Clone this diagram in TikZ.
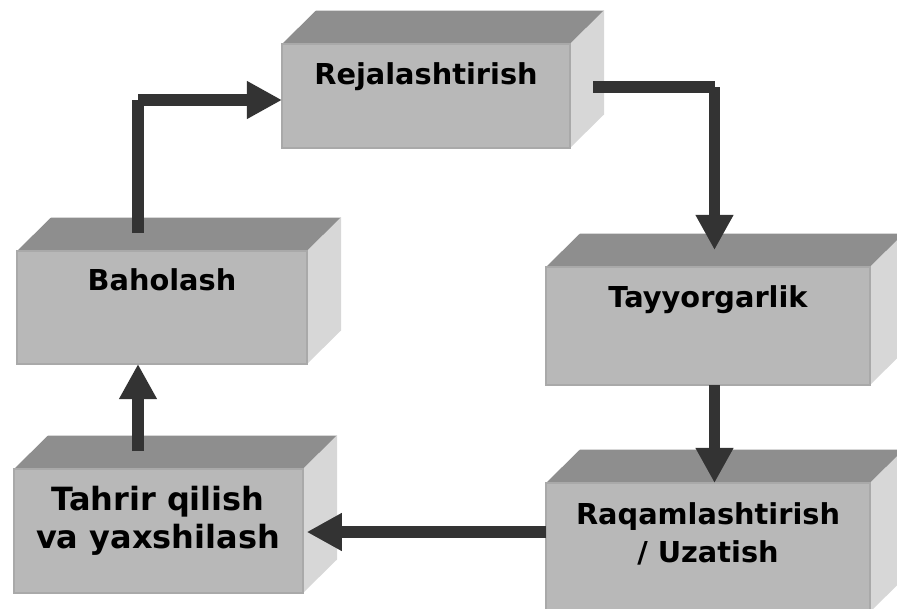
\documentclass[tikz,border=0pt]{standalone}
\usepackage{fontspec}
\setmainfont{DejaVu Sans}
\usetikzlibrary{arrows.meta,fit,calc}

\definecolor{frontgray}{HTML}{B8B8B8}
\definecolor{topgray}{HTML}{8E8E8E}
\definecolor{sidegray}{HTML}{D7D7D7}
\definecolor{edgegray}{HTML}{A9A9A9}
\definecolor{arrowgray}{HTML}{333333}

\tikzset{
  frontface/.style={rectangle, inner sep=0pt, outer sep=0pt, fill=frontgray,
    draw=edgegray, line width=0.8pt},
  topface/.style={fill=topgray},
  sideface/.style={fill=sidegray},
  boxlabel/.style={font=\bfseries\fontsize{21.6}{28.6}\selectfont, align=center,
    anchor=base, inner sep=0pt, text=black},
  biglabel/.style={boxlabel, font=\bfseries\fontsize{24}{28.2}\selectfont},
  shaft/.style={draw=arrowgray, line width=8.6pt},
  conn/.style={shaft, -{Triangle[length=26.3pt, width=26.6pt]}},
}

% 3-D block: #1 name, (#2,#3) and (#4,#5) the corners of the front face
\newcommand\blockbox[5]{%
  \fill[topface] (#2,#3) -- (#2+34,#3-33.5) -- (#4+34,#3-33.5) -- (#4,#3) -- cycle;
  \fill[sideface] (#4,#3) -- (#4+34,#3-33.5) -- (#4+34,#5-33.5) -- (#4,#5) -- cycle;
  \node[frontface, fit={(#2,#3) (#4,#5)}] (#1) {};
}

\begin{document}
\begin{tikzpicture}[x=0.75pt, y=-0.75pt]
  \useasboundingbox (0,0) rectangle (897,608);
  \clip (0,0) rectangle (897,608);

  % blocks
  \blockbox{rej}{282}{44}{570}{148}
  \blockbox{bah}{17}{251}{307}{364}
  \blockbox{tay}{546}{267}{870}{385}
  \blockbox{tah}{14}{469}{303}{593}
  \blockbox{raq}{546}{483}{870}{612}

  % labels (base = baseline of the last line)
  \node[boxlabel] (rej-t) at (426,84) {Rejalashtirish};
  \node[boxlabel] (bah-t) at (162,290) {Baholash};
  \node[boxlabel] (tay-t) at (708,307.5) {Tayyorgarlik};
  \node[biglabel] (tah-t) at (158,548.5) {Tahrir qilish\\va yaxshilash};
  \node[boxlabel] (raq-t) at (708,562.5) {Raqamlashtirish\\/ Uzatish};

  % connector end points lying on the top and side faces
  \coordinate (bah-up)   at (138,233);
  \coordinate (elbow1)   at (138,100);
  \coordinate (rej-out)  at (593,87);
  \coordinate (elbow2)   at (714.5,87);
  \coordinate (tay-in)   at (714.5,250);
  \coordinate (tah-in)   at (306.7,532);
  \coordinate (tah-up)   at (138,451);

  % connectors
  \draw[shaft] (bah-up) -- (elbow1);
  \draw[conn]  (elbow1) -- (elbow1 -| rej.west);
  \draw[shaft] (rej-out) -- (elbow2);
  \draw[conn]  (elbow2) -- (tay-in);
  \draw[conn]  (tay.south -| tay-in) -- (raq.north -| tay-in);
  \draw[conn]  (raq.west |- tah-in) -- (tah-in);
  \draw[conn]  (tah-up) -- (tah-up |- bah.south);
\end{tikzpicture}
\end{document}
